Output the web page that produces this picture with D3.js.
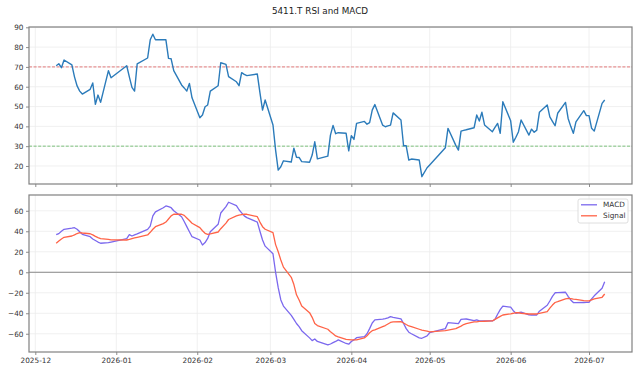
<!DOCTYPE html>
<html>
<head>
<meta charset="utf-8">
<script src="https://cdn.jsdelivr.net/npm/d3@7"></script>
<style>
  body { margin: 0; background: #fff; }
  text { font-family: "DejaVu Sans", sans-serif; }
</style>
</head>
<body>
<div id="chart-area"></div>
<script>
// Trading days shown in the chart
const dates = [
  "2025-12-09","2025-12-10","2025-12-11","2025-12-12","2025-12-15","2025-12-16","2025-12-17","2025-12-18","2025-12-19","2025-12-22","2025-12-23","2025-12-24","2025-12-25","2025-12-26","2025-12-29","2025-12-30",
  "2026-01-05","2026-01-06","2026-01-07","2026-01-08","2026-01-09","2026-01-13","2026-01-14","2026-01-15","2026-01-16","2026-01-19","2026-01-20","2026-01-21","2026-01-22","2026-01-23","2026-01-26","2026-01-27","2026-01-28","2026-01-29","2026-01-30",
  "2026-02-02","2026-02-03","2026-02-04","2026-02-05","2026-02-06","2026-02-09","2026-02-10","2026-02-12","2026-02-13","2026-02-16","2026-02-17","2026-02-18","2026-02-19","2026-02-20","2026-02-24","2026-02-25","2026-02-26","2026-02-27",
  "2026-03-02","2026-03-03","2026-03-04","2026-03-05","2026-03-06","2026-03-09","2026-03-10","2026-03-11","2026-03-12","2026-03-13","2026-03-16","2026-03-17","2026-03-18","2026-03-19","2026-03-23","2026-03-24","2026-03-25","2026-03-26","2026-03-27","2026-03-30","2026-03-31",
  "2026-04-01","2026-04-02","2026-04-03","2026-04-06","2026-04-07","2026-04-08","2026-04-09","2026-04-10","2026-04-13","2026-04-14","2026-04-15","2026-04-16","2026-04-17","2026-04-20","2026-04-21","2026-04-22","2026-04-23","2026-04-24","2026-04-27","2026-04-28","2026-04-30",
  "2026-05-01","2026-05-07","2026-05-08","2026-05-11","2026-05-12","2026-05-13","2026-05-14","2026-05-15","2026-05-18","2026-05-19","2026-05-20","2026-05-21","2026-05-22","2026-05-25","2026-05-26","2026-05-27","2026-05-28","2026-05-29",
  "2026-06-01","2026-06-02","2026-06-03","2026-06-04","2026-06-05","2026-06-08","2026-06-09","2026-06-10","2026-06-11","2026-06-12","2026-06-15","2026-06-16","2026-06-17","2026-06-18","2026-06-19","2026-06-22","2026-06-23","2026-06-24","2026-06-25","2026-06-26","2026-06-29","2026-06-30",
  "2026-07-01","2026-07-02","2026-07-03","2026-07-06","2026-07-07"
];

const rsi = [
  70.6, 71.6, 69.6, 73.5, 71.0, 65.0, 60.4, 57.8, 56.3, 58.7, 61.9, 51.1, 55.8, 52.1, 68.1, 64.5,
  70.6, 65.0, 59.7, 57.8, 71.5, 74.5, 83.7, 86.5, 83.7, 83.8, 83.7, 74.3, 74.1, 68.1, 60.9, 59.4, 57.8, 61.7, 54.4,
  44.3, 45.7, 49.9, 50.8, 57.8, 60.5, 72.1, 71.3, 65.1, 62.5, 60.5, 67.1, 66.2, 65.6, 66.4, 57.0, 48.2, 53.3,
  40.7, 28.0, 17.9, 19.6, 22.6, 22.0, 29.0, 24.4, 24.3, 22.2, 21.9, 25.5, 32.2, 23.6, 25.0, 35.6, 40.5, 36.3, 36.8, 36.5, 27.6,
  35.3, 33.4, 41.5, 42.5, 41.1, 41.9, 48.2, 51.0, 40.6, 39.8, 40.2, 40.6, 46.8, 43.2, 30.2, 30.2, 23.0, 23.5, 23.0, 14.6, 19.1,
  20.5, 29.2, 39.0, 30.4, 28.0, 37.6, 38.0, 38.3, 39.3, 45.7, 42.7, 47.1, 40.7, 37.3, 39.5, 41.5, 36.5, 52.4,
  42.8, 32.0, 34.5, 37.3, 43.2, 35.6, 38.6, 37.0, 38.1, 47.1, 50.8, 44.8, 42.5, 40.3, 46.6, 52.1, 44.0, 40.0, 36.5, 42.3, 47.9, 45.4,
  45.4, 39.0, 37.6, 51.6, 53.3
];

const macd = [
  36.7, 37.7, 40.0, 41.9, 43.0, 43.5, 42.0, 39.5, 37.0, 34.7, 32.5, 31.0, 29.5, 28.3, 28.9, 29.5,
  32.8, 36.7, 35.4, 36.5, 37.4, 41.9, 45.0, 55.0, 59.0, 63.0, 64.7, 64.0, 63.0, 60.0, 54.2, 49.5, 44.5, 39.5, 34.7,
  31.5, 26.6, 29.0, 33.0, 39.6, 46.8, 57.8, 64.0, 68.3, 65.0, 61.0, 58.0, 55.0, 53.3, 49.0, 40.0, 31.5, 25.5,
  18.0, 0.0, -15.0, -27.0, -33.0, -42.0, -46.0, -50.0, -53.0, -57.0, -64.0, -66.7, -65.1, -67.5, -70.9, -70.0, -68.7, -67.5, -66.0, -69.5, -70.2,
  -67.5, -66.0, -63.8, -62.8, -60.0, -55.0, -49.5, -46.5, -45.7, -45.2, -44.5, -43.3, -44.0, -45.5, -50.0, -55.0, -58.5, -60.0, -64.0, -64.4, -62.0,
  -59.0, -55.0, -49.2, -49.8, -50.1, -46.0, -45.7, -45.6, -47.2, -46.5, -47.5, -47.5, -47.5, -47.5, -46.0, -41.0, -36.5, -33.0,
  -34.1, -37.5, -40.0, -39.5, -39.0, -41.5, -41.7, -41.7, -41.7, -38.0, -32.2, -28.0, -23.5, -20.0, -19.8, -19.5, -23.5, -27.0, -29.5, -29.7, -29.5, -29.4,
  -29.3, -26.0, -23.0, -15.6, -9.2
];

const signal = [
  28.3, 30.5, 32.5, 34.1, 35.4, 36.5, 37.8, 38.6, 38.3, 37.6, 36.5, 35.0, 33.8, 32.8, 32.0, 31.6,
  31.5, 32.0, 32.8, 33.5, 34.1, 36.4, 39.0, 42.0, 44.5, 47.5, 49.0, 52.0, 55.0, 56.6, 56.6, 55.5, 53.0, 50.5, 47.8,
  43.5, 40.5, 38.0, 37.0, 37.5, 39.3, 42.5, 48.0, 51.5, 55.0, 55.8, 56.3, 56.6, 56.6, 54.2, 49.0, 44.5, 42.0,
  38.6, 27.0, 20.0, 12.0, 5.0, -4.9, -12.0, -22.0, -27.0, -32.9, -39.4, -44.0, -50.0, -52.0, -55.6, -58.0, -60.0, -62.1, -63.0, -65.4, -65.7,
  -66.0, -66.0, -66.0, -64.1, -62.0, -59.0, -57.0, -56.3, -53.1, -52.0, -50.5, -49.0, -48.5, -48.2, -49.5, -51.0, -52.4, -53.0, -55.6, -56.5, -57.5,
  -58.2, -57.0, -56.5, -55.0, -53.7, -52.5, -51.0, -50.1, -48.5, -48.5, -48.0, -48.0, -47.8, -47.5, -46.0, -44.5, -43.0, -41.7,
  -40.5, -40.0, -39.4, -39.5, -40.0, -40.7, -40.7, -40.7, -40.7, -40.0, -38.4, -35.0, -32.0, -29.5, -28.7, -26.0, -25.4, -25.7, -26.3, -26.5, -27.7, -28.0,
  -28.0, -27.0, -26.0, -24.4, -21.2
];

const rsiTicks = [20, 30, 40, 50, 60, 70, 80, 90];
const macdTicks = [-60, -40, -20, 0, 20, 40, 60];
const rsiLevels = [70, 30];
const seriesNames = ["MACD", "Signal"];

const width = 640, height = 373;
const left = 29, right = 632;
const panelTop = { top: 27, bottom: 184 };
const panelBot = { top: 195, bottom: 352 };
const frameColor = "#808080";
const gridColor = "#ececec";
const textColor = "#333";
const fontSize = 7.3;

const parseTime = d3.timeParse("%Y-%m-%d");
const rows = dates.map((d, i) => ({ date: parseTime(d), rsi: rsi[i], macd: macd[i], signal: signal[i] }));

const svg = d3.select("#chart-area").append("svg")
  .attr("width", width)
  .attr("height", height);

// Scales
const x = d3.scaleTime()
  .domain([new Date(2025, 10, 28, 14), new Date(2026, 6, 17, 11)])
  .range([left, right]);
const yR = d3.scaleLinear().domain([10.9, 90.15]).range([panelTop.bottom, panelTop.top]);
const yM = d3.scaleLinear().domain([-77.8, 75.4]).range([panelBot.bottom, panelBot.top]);

const monthTicks = x.ticks(d3.timeMonth.every(1));

// Title
svg.append("text")
  .attr("x", width / 2)
  .attr("y", 14)
  .attr("text-anchor", "middle")
  .attr("font-size", 8.8)
  .attr("fill", "#222")
  .text("5411.T RSI and MACD");

function panel(p, y, ticks, showLabels) {
  const g = svg.append("g");
  // grid
  g.selectAll(".vg").data(monthTicks).enter().append("line")
    .attr("x1", d => x(d)).attr("x2", d => x(d))
    .attr("y1", p.top).attr("y2", p.bottom)
    .attr("stroke", gridColor).attr("stroke-width", 0.8);
  g.selectAll(".hg").data(ticks).enter().append("line")
    .attr("x1", left).attr("x2", right)
    .attr("y1", d => y(d)).attr("y2", d => y(d))
    .attr("stroke", gridColor).attr("stroke-width", 0.8);

  // axes
  const yAxis = g.append("g")
    .attr("transform", "translate(" + left + ",0)")
    .call(d3.axisLeft(y).tickValues(ticks).tickSize(3).tickPadding(2.5));
  const xAxis = g.append("g")
    .attr("transform", "translate(0," + p.bottom + ")")
    .call(d3.axisBottom(x).tickValues(monthTicks).tickSize(3).tickPadding(3)
      .tickFormat(showLabels ? d3.timeFormat("%Y-%m") : () => ""));
  [xAxis, yAxis].forEach(a => {
    a.select(".domain").remove();
    a.selectAll(".tick line").attr("stroke", frameColor).attr("stroke-width", 0.9);
    a.selectAll(".tick text")
      .attr("fill", textColor)
      .attr("font-size", fontSize)
      .attr("font-family", "DejaVu Sans, sans-serif");
  });
  return g;
}

function frame(p) {
  svg.append("rect")
    .attr("x", left).attr("y", p.top)
    .attr("width", right - left).attr("height", p.bottom - p.top)
    .attr("fill", "none")
    .attr("stroke", frameColor)
    .attr("stroke-width", 1.2);
}

// ---- RSI panel ----
const gR = panel(panelTop, yR, rsiTicks, false);
const levelColors = ["#d62728", "#2ca02c"];
gR.selectAll(".lvl").data(rsiLevels).enter().append("line")
  .attr("x1", left).attr("x2", right)
  .attr("y1", d => yR(d)).attr("y2", d => yR(d))
  .attr("stroke", (d, i) => levelColors[i])
  .attr("stroke-opacity", 0.75)
  .attr("stroke-width", 0.8)
  .attr("stroke-dasharray", "3,1.6");

gR.append("path")
  .datum(rows)
  .attr("fill", "none")
  .attr("stroke", "#2b7bba")
  .attr("stroke-width", 1.4)
  .attr("stroke-linejoin", "round")
  .attr("d", d3.line().x(d => x(d.date)).y(d => yR(d.rsi)));
frame(panelTop);

// ---- MACD panel ----
const gM = panel(panelBot, yM, macdTicks, true);
gM.append("line")
  .attr("x1", left).attr("x2", right)
  .attr("y1", yM(0)).attr("y2", yM(0))
  .attr("stroke", "#8a8a8a")
  .attr("stroke-width", 1);

const lineColors = ["#7b68ee", "#ff6347"];
const keys = ["macd", "signal"];
keys.forEach((k, i) => {
  gM.append("path")
    .datum(rows)
    .attr("fill", "none")
    .attr("stroke", lineColors[i])
    .attr("stroke-width", 1.3)
    .attr("stroke-linejoin", "round")
    .attr("d", d3.line().x(d => x(d.date)).y(d => yM(d[k])));
});
frame(panelBot);

// Legend
const legend = svg.append("g").attr("transform", "translate(578,199)");
legend.append("rect")
  .attr("width", 50).attr("height", 24)
  .attr("rx", 2)
  .attr("fill", "#fff")
  .attr("fill-opacity", 0.85)
  .attr("stroke", "#d5d5d5")
  .attr("stroke-width", 0.8);
seriesNames.forEach((name, i) => {
  const yy = 5.8 + i * 11;
  legend.append("line")
    .attr("x1", 3).attr("x2", 19)
    .attr("y1", yy).attr("y2", yy)
    .attr("stroke", lineColors[i])
    .attr("stroke-width", 1.3);
  legend.append("text")
    .attr("x", 25).attr("y", yy)
    .attr("dy", "0.35em")
    .attr("font-size", fontSize)
    .attr("fill", textColor)
    .text(name);
});
</script>
</body>
</html>
